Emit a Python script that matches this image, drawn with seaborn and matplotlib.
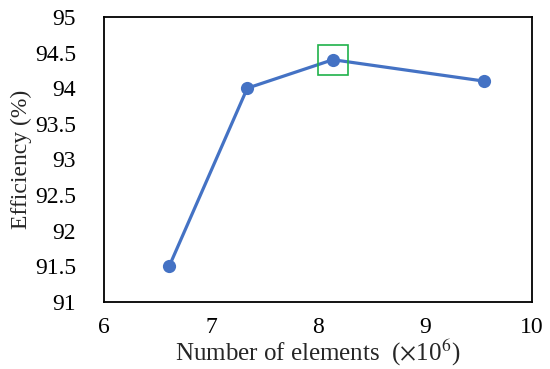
import pandas as pd
import matplotlib
matplotlib.use("Agg")
import matplotlib.pyplot as plt
import seaborn as sns

# data
elements = [6.61, 7.34, 8.14, 9.55]
efficiency = [91.5, 94.0, 94.4, 94.1]
best_x = [8.14]
best_y = [94.4]
x_ticks = [6, 7, 8, 9, 10]
y_ticks = [91, 91.5, 92, 92.5, 93, 93.5, 94, 94.5, 95]

sns.set_style("white")
plt.rcParams['font.family'] = ['Liberation Serif', 'DejaVu Serif']
plt.rcParams['mathtext.fontset'] = 'stix'

df = pd.DataFrame({"elements": elements, "efficiency": efficiency})

fig, ax = plt.subplots(figsize=(5.5, 3.69), dpi=100)
fig.subplots_adjust(left=0.189, right=0.967, top=0.954, bottom=0.182)

sns.lineplot(data=df, x="elements", y="efficiency", ax=ax, color="#4472C4",
             linewidth=2.3, marker="o", markersize=9.5, markeredgewidth=0)
ax.plot(best_x, best_y, marker="s", markersize=21, markerfacecolor="none",
        markeredgecolor="#1FB24A", markeredgewidth=1.2, linestyle="none")

ax.set_xlim(6, 10)
ax.set_ylim(91, 95)
ax.set_xticks(x_ticks)
ax.set_xticklabels([str(t) for t in x_ticks])
ax.set_yticks(y_ticks)
ax.set_yticklabels([f"{t:g}" for t in y_ticks])

ax.tick_params(axis="x", direction="in", length=5, width=1, pad=11,
               labelsize=17, colors="black")
ax.tick_params(axis="y", length=0, pad=20, labelsize=17, colors="black")

for s in ax.spines.values():
    s.set_color("black")
    s.set_linewidth(1.3)

ax.set_xlabel(r"Number of elements  ($\times$10$^{6}$)", fontsize=18, labelpad=0)
ax.set_ylabel("Efficiency (%)", fontsize=17, labelpad=2)

fig.savefig("out.png", dpi=100)
